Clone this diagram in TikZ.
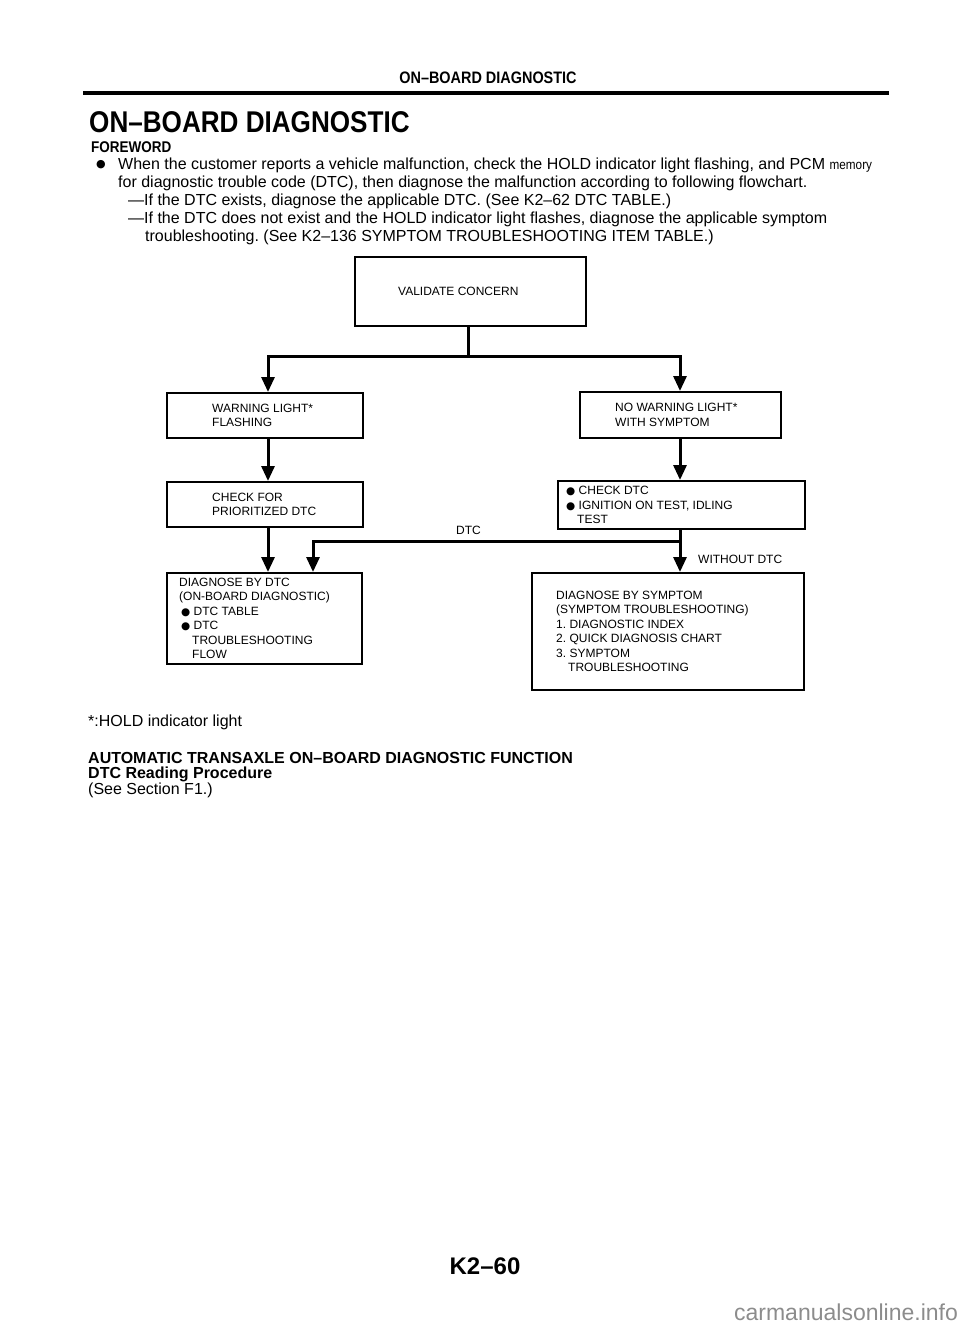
\documentclass[tikz,border=0pt]{standalone}
\usepackage{fontspec}
\setmainfont{Liberation Sans}
\newfontfamily\condfont[FakeStretch=0.87]{Liberation Sans}
\newfontfamily\symfont{DejaVu Sans}
\usetikzlibrary{arrows.meta}
\newcommand{\bul}{{\symfont\fontsize{10.5}{10}\selectfont ●}}
\frenchspacing
\begin{document}
\frenchspacing
\begin{tikzpicture}[x=1pt,y=-1pt,
  box/.style={draw, line width=2pt, inner sep=0pt},
  conn/.style={line width=3pt},
  arr/.style={line width=3pt, -{Triangle[length=15pt,width=13pt]}},
  btxt/.style={font=\fontsize{12}{14.5}\selectfont, align=left, inner sep=0pt, anchor=west},
  body/.style={font=\fontsize{16}{18}\selectfont, inner sep=0pt, anchor=west},
  bbody/.style={font=\bfseries\fontsize{16}{18}\selectfont, inner sep=0pt, anchor=west},
]
\useasboundingbox (0,0) rectangle (960,1335);
% header
\node[inner sep=0pt, font=\condfont\bfseries\fontsize{16.6}{20}\selectfont] (hdr) at (488,78) {ON–BOARD DIAGNOSTIC};
\draw[line width=3.5pt] (83,93) -- (889,93);
\node[inner sep=0pt, anchor=west, font=\condfont\bfseries\fontsize{30}{36}\selectfont] (title) at (89,122) {ON–BOARD DIAGNOSTIC};
\node[inner sep=0pt, anchor=west, font=\condfont\bfseries\fontsize{15.5}{18}\selectfont] (fw) at (91,147) {FOREWORD};
\node[inner sep=0pt] (b1) at (101,165) {{\symfont\fontsize{11}{14}\selectfont ●}};
\node[body] (l1) at (118,165) {When the customer reports a vehicle malfunction, check the HOLD indicator light flashing, and PCM {\condfont\fontsize{13.5}{18}\selectfont memory}};
\node[body] (l2) at (118,183) {for diagnostic trouble code (DTC), then diagnose the malfunction according to following flowchart.};
\node[body] (l3) at (128,201) {—If the DTC exists, diagnose the applicable DTC. (See K2–62 DTC TABLE.)};
\node[body] (l4) at (128,219) {—If the DTC does not exist and the HOLD indicator light flashes, diagnose the applicable symptom};
\node[body] (l5) at (145,237) {troubleshooting. (See K2–136 SYMPTOM TROUBLESHOOTING ITEM TABLE.)};

% flowchart boxes
\node[box, minimum width=231pt, minimum height=69pt,
  label={[btxt, anchor=west, xshift=44pt]west:VALIDATE CONCERN}] (val) at (470.5,291.5) {};
\node[box, minimum width=196pt, minimum height=45pt,
  label={[btxt, anchor=west, xshift=46pt]west:{WARNING LIGHT*\\FLASHING}}] (warn) at (265,415.5) {};
\node[box, minimum width=201pt, minimum height=46pt,
  label={[btxt, anchor=west, xshift=36pt]west:{NO WARNING LIGHT*\\WITH SYMPTOM}}] (nowarn) at (680.5,415) {};
\node[box, minimum width=196pt, minimum height=45pt,
  label={[btxt, anchor=west, xshift=46pt]west:{CHECK FOR\\PRIORITIZED DTC}}] (chkfor) at (265,504.5) {};
\node[box, minimum width=247pt, minimum height=48pt,
  label={[btxt, anchor=west, xshift=9pt]west:{\bul\ CHECK DTC\\\bul\ IGNITION ON TEST, IDLING\\\hspace*{11pt}TEST}}] (chkdtc) at (681.5,505) {};
\node[box, minimum width=195pt, minimum height=91pt,
  label={[btxt, anchor=west, xshift=13pt]west:{DIAGNOSE BY DTC\\(ON-BOARD DIAGNOSTIC)\\\hspace*{2pt}\bul\ DTC TABLE\\\hspace*{2pt}\bul\ DTC\\\hspace*{13pt}TROUBLESHOOTING\\\hspace*{13pt}FLOW}}] (diagdtc) at (264.5,618.5) {};
\node[box, minimum width=272pt, minimum height=117pt,
  label={[btxt, anchor=west, xshift=25pt]west:{DIAGNOSE BY SYMPTOM\\(SYMPTOM TROUBLESHOOTING)\\1. DIAGNOSTIC INDEX\\2. QUICK DIAGNOSIS CHART\\3. SYMPTOM\\\hspace*{12pt}TROUBLESHOOTING}}] (diagsym) at (668,631.5) {};

% connectors
\coordinate (j1) at (468,356);
\draw[conn] (val.south -| j1) -- (j1);
\draw[arr] (j1) -| ([xshift=3pt]warn.north);
\draw[arr] (j1) -| ([xshift=-0.5pt]nowarn.north);
\draw[arr] ([xshift=3pt]warn.south) -- ([xshift=3pt]chkfor.north);
\draw[arr] ([xshift=-0.5pt]nowarn.south) -- ([xshift=-1.5pt]chkdtc.north);
\draw[arr] ([xshift=3pt]chkfor.south) -- ([xshift=3.5pt]diagdtc.north);
\coordinate (br) at (680,541);
\draw[conn] (chkdtc.south -| br) -- (br);
\draw[arr] (br) -- (diagsym.north -| br);
\draw[arr] (br) -| ([xshift=48.5pt]diagdtc.north);
\node[btxt] (dtc) at (456,530) {DTC};
\node[btxt] (wo) at (698,559) {WITHOUT DTC};

% footer texts
\node[body] (note) at (88,722) {*:HOLD indicator light};
\node[bbody] (f1) at (88,758) {AUTOMATIC TRANSAXLE ON–BOARD DIAGNOSTIC FUNCTION};
\node[bbody] (f2) at (88,774) {DTC Reading Procedure};
\node[body] (f3) at (88,790) {(See Section F1.)};
\node[inner sep=0pt, font=\bfseries\fontsize{24}{26}\selectfont] (pg) at (485,1266) {K2–60};
\node[inner sep=0pt, text=black!45, font=\fontsize{23}{26}\selectfont] (wm) at (846,1312) {carmanualsonline.info};
\end{tikzpicture}
\end{document}
